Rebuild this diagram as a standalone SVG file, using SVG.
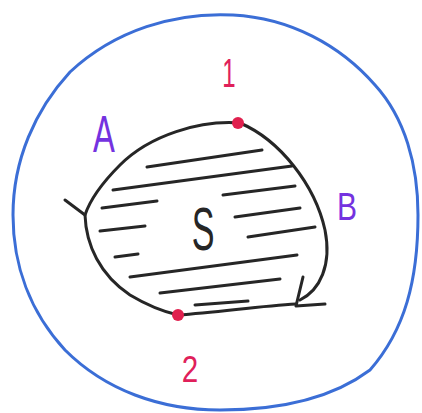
<svg xmlns="http://www.w3.org/2000/svg" width="422" height="413" viewBox="0 0 422 413">
<style>
.ink{fill:none;stroke:#262626;stroke-width:3;stroke-linecap:round;stroke-linejoin:round}
.blue{fill:none;stroke:#3b6ed6;stroke-width:3}
.red{fill:#e0204e}
.lbl{font-family:"Liberation Sans",Arial,sans-serif;text-anchor:middle}
.pur{fill:#7432e0}
.pink{fill:#e0205a}
</style>
<rect width="422" height="413" fill="#ffffff"/>
<g id="outer">
<path class="blue" d="M 233,15 C 290,18 340,45 375,85 C 405,118 418,165 418,215 C 418,280 405,330 370,370 C 330,400 275,410 220,410 C 160,410 105,390 65,350 C 30,312 13,265 13,215 C 13,160 35,110 70,72 C 115,30 175,12 233,15 Z"/>
</g>
<g id="region">
<path class="ink" d="M 240,123 C 200,120 150,135 120,165 C 100,185 90,200 85,215"/>
<path class="ink" d="M 65,200 L 85,215 C 86,245 100,275 130,295 C 150,307 165,312 178,315"/>
<path class="ink" d="M 178,315 C 220,312 260,306 296,304"/>
<path class="ink" d="M 240,123 C 280,140 315,185 325,230 C 332,265 320,290 300,300"/>
<path class="ink" d="M 303,277 L 296,306 L 325,304"/>
<g id="hatching">
<path class="ink" d="M147,167 L262,150"/>
<path class="ink" d="M113,190 L292,166"/>
<path class="ink" d="M102,208 L157,201"/>
<path class="ink" d="M223,195 L295,186"/>
<path class="ink" d="M100,231 L145,226"/>
<path class="ink" d="M235,217 L300,208"/>
<path class="ink" d="M248,237 L315,227"/>
<path class="ink" d="M115,257 L138,254"/>
<path class="ink" d="M130,277 L297,255"/>
<path class="ink" d="M160,293 L280,279"/>
<path class="ink" d="M195,305 L248,301"/>
</g>
<text class="lbl" x="0" y="0" fill="#262626" font-size="62" transform="translate(203,250) scale(0.55,1)">S</text>
</g>
<g id="point1">
<circle class="red" cx="238" cy="123" r="6"/>
<text class="lbl pink" x="0" y="0" font-size="40" transform="translate(229,87) scale(0.6,1)">1</text>
</g>
<g id="point2">
<circle class="red" cx="178" cy="315" r="6"/>
<text class="lbl pink" x="0" y="0" font-size="37" transform="translate(190,382) scale(0.8,1)">2</text>
</g>
<g id="labelA">
<text class="lbl pur" x="0" y="0" font-size="52" transform="translate(104,152) scale(0.63,1)">A</text>
</g>
<g id="labelB">
<text class="lbl pur" x="0" y="0" font-size="39" transform="translate(347,220) scale(0.77,1)">B</text>
</g>
</svg>
